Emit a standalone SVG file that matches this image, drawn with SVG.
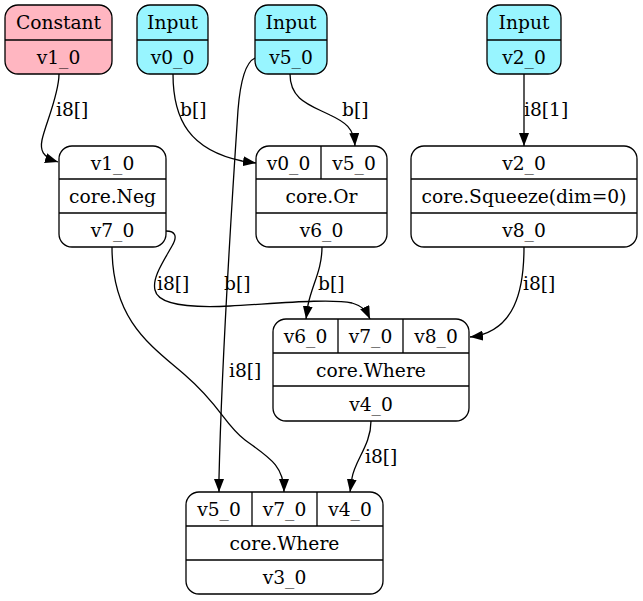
<svg xmlns="http://www.w3.org/2000/svg" width="643" height="601" viewBox="0 0 643 601">
<defs>
<style>
.n{fill:#ffffff;stroke:#000;stroke-width:1.3}
.c{fill:#ffb6c1}
.i{fill:#98f5ff}
.s{stroke:#000;stroke-width:1.3;fill:none}
text{font-family:"DejaVu Serif","Liberation Serif",serif;font-size:18.67px;fill:#000}
.m{text-anchor:middle}
.e{fill:none;stroke:#000;stroke-width:1.3;marker-end:url(#ah)}
</style>
<marker id="ah" viewBox="0 0 13 10" refX="13" refY="5" markerWidth="13" markerHeight="10" markerUnits="userSpaceOnUse" orient="auto">
<path d="M0,0 L13,5 L0,10 z" fill="#000"/>
</marker>
</defs>
<rect width="643" height="601" fill="#fff"/>
<g id="connectors">
<path class="e" d="M59,74 C59,95 45,125 42,140 C40,150 42,157 58,162"/>
<path class="e" d="M173,74 C173,120 190,150 242,161 L256,163"/>
<path class="e" d="M290,74 C290,100 310,105 330,115 C345,122 354,128 355,146"/>
<path class="e" d="M255,58 C244,63 240,85 238,110 C232,200 222,350 219,478 L219,492"/>
<path class="e" d="M166,231 C175,231 178,236 172,246 C163,262 152,278 155,290 C158,305 190,308 230,306 C270,304 330,298 352,303 C362,306 366,310 370,319"/>
<path class="e" d="M112,247 C112,320 150,345 185,375 C220,405 225,425 245,440 C268,457 284,465 284,492"/>
<path class="e" d="M322,247 C322,270 312,285 308,305 L306,319"/>
<path class="e" d="M524,247 C524,290 515,332 470,337"/>
<path class="e" d="M524,74 L524,146"/>
<path class="e" d="M371,421 C371,445 355,460 352,478 L350,492"/>
<text x="56" y="116">i8[]</text>
<text x="180" y="116">b[]</text>
<text x="342" y="116">b[]</text>
<text x="524" y="116">i8[1]</text>
<text x="157" y="290">i8[]</text>
<text x="224" y="290">b[]</text>
<text x="318" y="290">b[]</text>
<text x="523" y="290">i8[]</text>
<text x="229" y="377">i8[]</text>
<text x="365" y="463">i8[]</text>
</g>
<g id="constant_v1_0">
<rect class="n c" x="5" y="5" width="107" height="69" rx="13"/>
<line class="s" x1="5" y1="40" x2="112" y2="40"/>
<text class="m" x="58.5" y="29">Constant</text>
<text class="m" x="58.5" y="64">v1_0</text>
</g>
<g id="input_v0_0">
<rect class="n i" x="137" y="5" width="71" height="69" rx="13"/>
<line class="s" x1="137" y1="40" x2="208" y2="40"/>
<text class="m" x="172.5" y="29">Input</text>
<text class="m" x="172.5" y="64">v0_0</text>
</g>
<g id="input_v5_0">
<rect class="n i" x="255" y="5" width="72" height="69" rx="13"/>
<line class="s" x1="255" y1="40" x2="327" y2="40"/>
<text class="m" x="291" y="29">Input</text>
<text class="m" x="291" y="64">v5_0</text>
</g>
<g id="input_v2_0">
<rect class="n i" x="487" y="5" width="74" height="69" rx="13"/>
<line class="s" x1="487" y1="40" x2="561" y2="40"/>
<text class="m" x="524" y="29">Input</text>
<text class="m" x="524" y="64">v2_0</text>
</g>
<g id="neg_v7_0">
<rect class="n" x="59" y="146" width="107" height="101" rx="13"/>
<line class="s" x1="59" y1="179" x2="166" y2="179"/>
<line class="s" x1="59" y1="213" x2="166" y2="213"/>
<text class="m" x="112.5" y="169.5">v1_0</text>
<text class="m" x="112.5" y="203">core.Neg</text>
<text class="m" x="112.5" y="237">v7_0</text>
</g>
<g id="or_v6_0">
<rect class="n" x="256" y="146" width="131" height="101" rx="13"/>
<line class="s" x1="256" y1="179" x2="387" y2="179"/>
<line class="s" x1="256" y1="213" x2="387" y2="213"/>
<line class="s" x1="321" y1="146" x2="321" y2="179"/>
<text class="m" x="288.5" y="169.5">v0_0</text>
<text class="m" x="354" y="169.5">v5_0</text>
<text class="m" x="321.5" y="203">core.Or</text>
<text class="m" x="321.5" y="237">v6_0</text>
</g>
<g id="squeeze_v8_0">
<rect class="n" x="411" y="146" width="226" height="101" rx="13"/>
<line class="s" x1="411" y1="179" x2="637" y2="179"/>
<line class="s" x1="411" y1="213" x2="637" y2="213"/>
<text class="m" x="524" y="169.5">v2_0</text>
<text class="m" x="524" y="203">core.Squeeze(dim=0)</text>
<text class="m" x="524" y="237">v8_0</text>
</g>
<g id="where_v4_0">
<rect class="n" x="273" y="319" width="196" height="102" rx="13"/>
<line class="s" x1="273" y1="353" x2="469" y2="353"/>
<line class="s" x1="273" y1="386" x2="469" y2="386"/>
<line class="s" x1="338" y1="319" x2="338" y2="353"/>
<line class="s" x1="403" y1="319" x2="403" y2="353"/>
<text class="m" x="305.5" y="343">v6_0</text>
<text class="m" x="370.5" y="343">v7_0</text>
<text class="m" x="436" y="343">v8_0</text>
<text class="m" x="371" y="376.5">core.Where</text>
<text class="m" x="371" y="410.5">v4_0</text>
</g>
<g id="where_v3_0">
<rect class="n" x="186" y="492" width="197" height="102" rx="13"/>
<line class="s" x1="186" y1="526" x2="383" y2="526"/>
<line class="s" x1="186" y1="560" x2="383" y2="560"/>
<line class="s" x1="252" y1="492" x2="252" y2="526"/>
<line class="s" x1="317" y1="492" x2="317" y2="526"/>
<text class="m" x="219" y="516">v5_0</text>
<text class="m" x="284.5" y="516">v7_0</text>
<text class="m" x="350" y="516">v4_0</text>
<text class="m" x="284.5" y="550">core.Where</text>
<text class="m" x="284.5" y="584">v3_0</text>
</g>
</svg>
